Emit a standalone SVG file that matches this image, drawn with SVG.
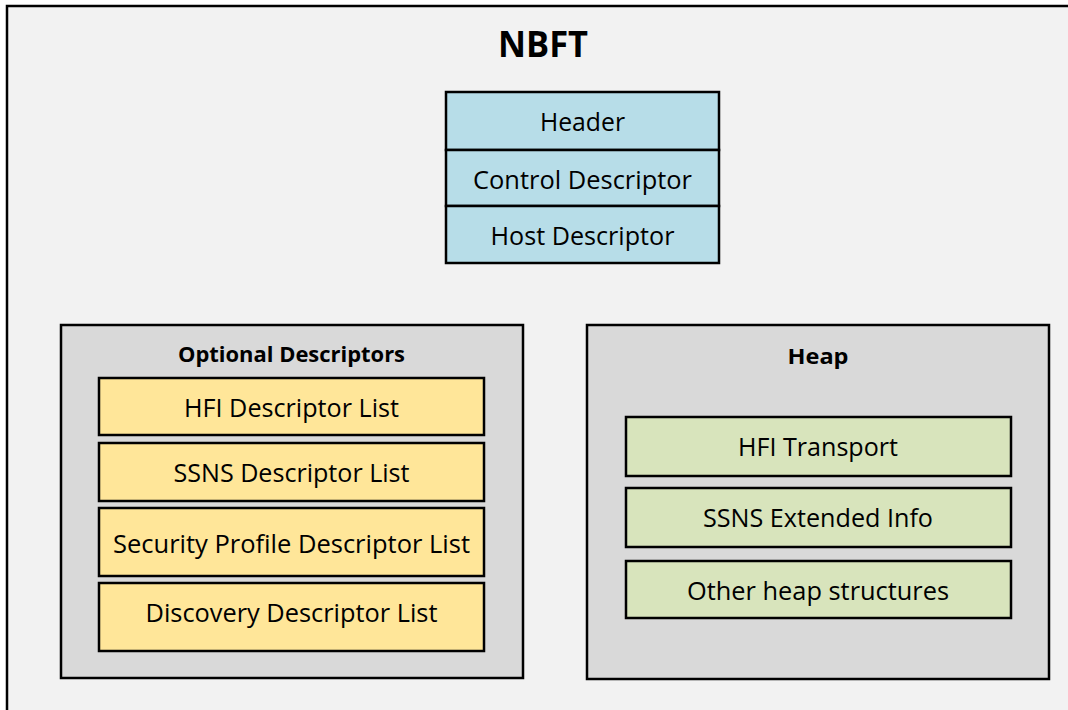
<svg xmlns="http://www.w3.org/2000/svg" width="1068" height="710" viewBox="0 0 1068 710">
<style>
.t{font-family:"Open Sans","Noto Sans","Liberation Sans",sans-serif;font-size:25px;fill:#000;text-anchor:middle}
.b{font-family:"Open Sans","Noto Sans","Liberation Sans",sans-serif;font-weight:bold;font-size:22px;fill:#000;text-anchor:middle}
.blue{fill:#b7dde8;stroke:#000;stroke-width:2.5}
.yel{fill:#ffe699;stroke:#000;stroke-width:2.5}
.grn{fill:#d8e4bc;stroke:#000;stroke-width:2.5}
.cont{fill:#d9d9d9;stroke:#000;stroke-width:2.5}
</style>
<rect x="0" y="0" width="1068" height="710" fill="#ffffff"/>
<g id="nbft">
<rect x="7" y="6" width="1075" height="720" fill="#f2f2f2" stroke="#000" stroke-width="2.5"/>
<text class="b" x="543" y="57" style="font-size:35px" textLength="90" lengthAdjust="spacingAndGlyphs">NBFT</text>
</g>
<g id="header">
<rect class="blue" x="446" y="92" width="273" height="58"/>
<text class="t" x="582.5" y="131" textLength="85" lengthAdjust="spacingAndGlyphs">Header</text>
</g>
<g id="control-descriptor">
<rect class="blue" x="446" y="150" width="273" height="56"/>
<text class="t" x="582.5" y="189" textLength="219" lengthAdjust="spacingAndGlyphs">Control Descriptor</text>
</g>
<g id="host-descriptor">
<rect class="blue" x="446" y="206" width="273" height="57"/>
<text class="t" x="582.5" y="245" textLength="184" lengthAdjust="spacingAndGlyphs">Host Descriptor</text>
</g>
<g id="optional-descriptors">
<rect class="cont" x="61" y="325" width="462" height="353"/>
<text class="b" x="291.5" y="362" textLength="227" lengthAdjust="spacingAndGlyphs">Optional Descriptors</text>
</g>
<g id="hfi-descriptor-list">
<rect class="yel" x="99" y="378" width="385" height="57"/>
<text class="t" x="291.5" y="417" textLength="215" lengthAdjust="spacingAndGlyphs">HFI Descriptor List</text>
</g>
<g id="ssns-descriptor-list">
<rect class="yel" x="99" y="443" width="385" height="58"/>
<text class="t" x="291.5" y="482" textLength="236" lengthAdjust="spacingAndGlyphs">SSNS Descriptor List</text>
</g>
<g id="security-profile-descriptor-list">
<rect class="yel" x="99" y="508" width="385" height="68"/>
<text class="t" x="291.5" y="553" textLength="357" lengthAdjust="spacingAndGlyphs">Security Profile Descriptor List</text>
</g>
<g id="discovery-descriptor-list">
<rect class="yel" x="99" y="583" width="385" height="68"/>
<text class="t" x="291.5" y="622" textLength="292" lengthAdjust="spacingAndGlyphs">Discovery Descriptor List</text>
</g>
<g id="heap">
<rect class="cont" x="587" y="325" width="462" height="354"/>
<text class="b" x="818" y="364" textLength="61" lengthAdjust="spacingAndGlyphs">Heap</text>
</g>
<g id="hfi-transport">
<rect class="grn" x="626" y="417" width="385" height="59"/>
<text class="t" x="818" y="456" textLength="160" lengthAdjust="spacingAndGlyphs">HFI Transport</text>
</g>
<g id="ssns-extended-info">
<rect class="grn" x="626" y="488" width="385" height="59"/>
<text class="t" x="818" y="527" textLength="230" lengthAdjust="spacingAndGlyphs">SSNS Extended Info</text>
</g>
<g id="other-heap-structures">
<rect class="grn" x="626" y="561" width="385" height="57"/>
<text class="t" x="818" y="600" textLength="262" lengthAdjust="spacingAndGlyphs">Other heap structures</text>
</g>
<g id="connectors"></g>
</svg>
